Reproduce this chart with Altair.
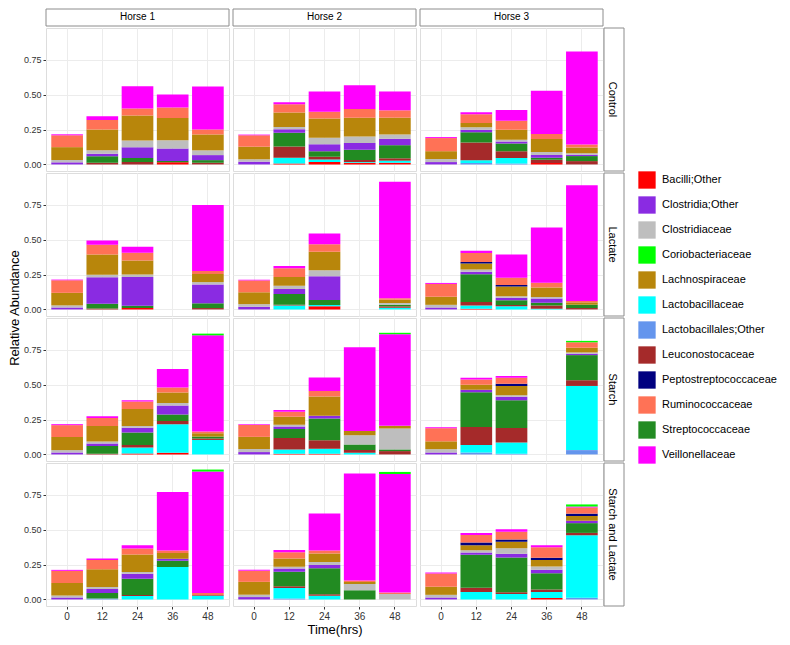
import altair as alt
import pandas as pd

treatments = ["Control", "Lactate", "Starch", "Starch and Lactate"]
horses = ["Horse 1", "Horse 2", "Horse 3"]
times = ["0", "12", "24", "36", "48"]

taxa = ["Bacilli;Other", "Clostridia;Other", "Clostridiaceae", "Coriobacteriaceae",
        "Lachnospiraceae", "Lactobacillaceae", "Lactobacillales;Other", "Leuconostocaceae",
        "Peptostreptococcaceae", "Ruminococcaceae", "Streptococcaceae", "Veillonellaceae"]
colors = ["#FF0000", "#8A2BE2", "#BEBEBE", "#00FF00", "#B8860B", "#00FFFF",
          "#6495ED", "#A52A2A", "#000080", "#FF7256", "#228B22", "#FF00FF"]
# stacking order, bottom to top
stack_order = ["Bacilli;Other", "Lactobacillales;Other", "Lactobacillaceae", "Leuconostocaceae",
               "Streptococcaceae", "Clostridia;Other", "Clostridiaceae", "Lachnospiraceae",
               "Peptostreptococcaceae", "Ruminococcaceae", "Veillonellaceae", "Coriobacteriaceae"]

# each line: one treatment; Horse 1 (0..48h), Horse 2 (0..48h), Horse 3 (0..48h)
bacilli_other = [
    0, 0, 0, .015, 0,   0, .007, .017, .012, .012,   0, 0, 0, .01, 0,
    0, 0, .01, 0, 0,    0, 0, .022, 0, 0,            0, .005, 0, 0, 0,
    0, 0, .007, .012, 0,  0, .005, .005, 0, 0,       0, 0, 0, 0, 0,
    0, 0, 0, 0, 0,      0, 0, 0, 0, 0,               0, 0, 0, .01, 0]
lactobacillales_other = [
    0, 0, 0, 0, 0,      0, 0, 0, 0, 0,               0, .01, .007, 0, 0,
    0, 0, 0, 0, 0,      0, 0, 0, 0, 0,               0, 0, 0, 0, 0,
    0, 0, 0, 0, 0,      0, 0, 0, 0, 0,               0, .014, .005, 0, .031,
    0, .007, 0, 0, 0,   0, .007, 0, 0, 0,            0, 0, 0, 0, .012]
lactobacillaceae = [
    0, 0, 0, 0, 0,      0, .041, .019, .005, .015,   0, .02, .039, 0, 0,
    0, 0, 0, 0, 0,      0, .029, .01, 0, .012,       0, .024, .022, .005, 0,
    0, 0, .043, .205, .104,  0, .031, .036, .012, 0,  0, .053, .08, 0, .46,
    0, 0, .024, .232, .027,  0, .075, .027, 0, 0,     0, .054, .039, .044, .448]
leuconostocaceae = [
    0, .012, .017, 0, .012,  0, .08, .019, .014, .017,  0, .128, .048, .024, .024,
    0, .007, 0, 0, .01,      0, .005, 0, 0, .01,        0, .024, .01, .024, .01,
    0, .005, .017, .022, .01,  0, .082, .06, .019, .024,  0, .13, .104, 0, .041,
    0, 0, .007, 0, .005,     0, .012, .01, 0, 0,        0, .029, .012, .017, .017]
streptococcaceae = [
    0, .046, .029, .01, .019,  0, .1, .039, .075, .094,   0, .072, .056, .014, .036,
    0, .034, .017, 0, .034,    0, .077, .036, 0, .012,    0, .2, .034, .019, .024,
    0, .055, .09, .048, .014,  0, .065, .157, .041, .012,  0, .249, .2, 0, .18,
    0, .039, .118, .046, 0,    0, .105, .187, .066, 0,    0, .238, .25, .117, .07]
clostridia_other = [
    .015, .019, .077, .09, .036,  .02, .024, .05, .048, .046,  .017, .019, .015, .019, .01,
    .014, .19, .205, 0, .135,     .019, .036, .17, 0, 0,       .014, .017, .017, .031, 0,
    .014, .019, .034, .063, 0,    .017, .017, .019, 0, 0,      .014, .017, .024, 0, .01,
    .014, .029, .036, .014, 0,    .017, .022, .022, 0, 0,      .014, .015, .027, .024, .017]
clostridiaceae = [
    .017, .024, .048, .058, .034,  .017, .017, .048, .046, .031,  .022, .017, .012, .022, .01,
    .015, .017, .019, 0, .017,     .019, .022, .043, 0, .012,     .019, .017, .012, .01, 0,
    .017, .014, .012, .019, 0,     .022, .012, 0, .065, .15,      .024, 0, .012, 0, .009,
    .014, .014, .012, 0, 0,        .017, .014, .022, .044, .039,  .019, .017, .039, .024, 0]
lachnospiraceae = [
    .092, .15, .18, .16, .114,   .09, .104, .138, .135, .12,   .056, .031, .072, .094, .041,
    .09, .145, .1, 0, .058,      .085, .063, .133, 0, .024,    .058, .043, .07, .068, .017,
    .094, .111, .123, .075, .024,  .087, .058, .138, .031, .019,  .056, .036, .065, 0, .034,
    .09, .128, .126, .041, 0,    .092, .058, .061, .015, 0,    .058, .036, .046, .046, .034]
peptostreptococcaceae = [
    0, 0, 0, 0, 0,   0, 0, 0, 0, 0,   0, 0, 0, 0, 0,
    0, 0, 0, 0, 0,   0, 0, 0, 0, 0,   0, .01, .01, 0, 0,
    0, 0, 0, 0, 0,   0, 0, 0, 0, 0,   0, 0, .017, 0, 0,
    0, 0, 0, 0, 0,   0, 0, 0, 0, 0,   0, .019, .017, .017, .017]
ruminococcaceae = [
    .085, .068, .05, .075, .036,  .082, .058, .048, .063, .053,  .094, .063, .065, .036, .022,
    .09, .07, .056, 0, .022,      .085, .063, .053, 0, .01,      .092, .065, .053, .034, .01,
    .085, .058, .053, .036, .012,  .085, .036, .039, 0, 0,       .094, .039, .043, 0, .039,
    .087, .065, .043, .017, .015,  .08, .046, .022, .01, .01,    .095, .054, .056, .075, .044]
veillonellaceae = [
    .007, .027, .16, .094, .307,  .005, .015, .145, .17, .135,  .007, .015, .077, .31, .667,
    .005, .031, .043, 0, .473,    .005, .017, .077, 0, .835,    .007, .015, .165, .396, .83,
    .007, .012, .01, .133, .69,   .005, .012, .097, .6, .657,   .007, .012, .012, 0, 0,
    .007, .012, .022, .42, .87,   .007, .015, .265, .767, .85,  .007, .015, .017, .015, .007]
coriobacteriaceae = [
    0, 0, 0, 0, 0,   0, 0, 0, 0, 0,   0, 0, 0, 0, 0,
    0, 0, 0, 0, 0,   0, 0, 0, 0, 0,   0, 0, 0, 0, 0,
    0, 0, 0, 0, .012,  0, 0, 0, 0, .01,  0, 0, 0, 0, .01,
    0, 0, 0, 0, .014,  0, 0, 0, 0, .015,  0, 0, 0, 0, .015]

series = {
    "Bacilli;Other": bacilli_other,
    "Lactobacillales;Other": lactobacillales_other,
    "Lactobacillaceae": lactobacillaceae,
    "Leuconostocaceae": leuconostocaceae,
    "Streptococcaceae": streptococcaceae,
    "Clostridia;Other": clostridia_other,
    "Clostridiaceae": clostridiaceae,
    "Lachnospiraceae": lachnospiraceae,
    "Peptostreptococcaceae": peptostreptococcaceae,
    "Ruminococcaceae": ruminococcaceae,
    "Veillonellaceae": veillonellaceae,
    "Coriobacteriaceae": coriobacteriaceae,
}

rows = []
for taxon, vals in series.items():
    for i, v in enumerate(vals):
        if v <= 0:
            continue
        rows.append({
            "Treatment": treatments[i // 15],
            "Horse": horses[(i % 15) // 5],
            "Time": times[i % 5],
            "Taxon": taxon,
            "Abundance": v,
            "ord": stack_order.index(taxon),
        })
df = pd.DataFrame(rows)

W, H = 183, 143

bars = alt.Chart().mark_bar().encode(
    x=alt.X("Time:O", sort=times,
            scale=alt.Scale(domain=times, paddingInner=0.1, paddingOuter=0.15),
            axis=alt.Axis(title=None, labelAngle=0, labelFontSize=10, labelColor="#333333",
                          tickColor="#333333", tickSize=3, bandPosition=0.5, minExtent=0,
                          grid=True, gridColor="#ececec", domain=False, labelPadding=2)),
    y=alt.Y("Abundance:Q", stack="zero",
            scale=alt.Scale(domain=[-0.047, 0.978], nice=False, zero=False),
            axis=alt.Axis(title=None, values=[0, 0.25, 0.5, 0.75], format=".2f",
                          labelFontSize=9, labelColor="#333333", tickColor="#333333",
                          tickSize=3, minExtent=0, gridColor="#ececec", domain=False,
                          labelPadding=2)),
    color=alt.Color("Taxon:N", scale=alt.Scale(domain=taxa, range=colors),
                    legend=alt.Legend(title=None, symbolType="square", symbolSize=300,
                                      symbolStrokeWidth=0, labelFontSize=11,
                                      rowPadding=7, labelOffset=6,
                                      orient="none", legendX=592, legendY=143)),
    order=alt.Order("ord:Q", sort="ascending"),
)

# strip boxes (outline only) above the top row and to the right of the last column
top_strip = alt.Chart().transform_filter(
    alt.datum.Treatment == treatments[0]
).transform_aggregate(
    n="count()", groupby=["Treatment", "Horse"]
).mark_rect(fill="white", fillOpacity=0, stroke="#8c8c8c", strokeWidth=1).encode(
    x=alt.value(0), x2=alt.value(W), y=alt.value(-19), y2=alt.value(-2)
)
right_strip = alt.Chart().transform_filter(
    alt.datum.Horse == horses[-1]
).transform_aggregate(
    n="count()", groupby=["Treatment", "Horse"]
).mark_rect(fill="white", fillOpacity=0, stroke="#8c8c8c", strokeWidth=1).encode(
    x=alt.value(W + 1), x2=alt.value(W + 21), y=alt.value(0), y2=alt.value(H)
)

layered = alt.layer(bars, top_strip, right_strip, data=df).properties(width=W, height=H)

chart = layered.facet(
    row=alt.Row("Treatment:N", sort=treatments, title="Relative Abundance",
                header=alt.Header(labelOrient="right", labelAngle=90, labelFontSize=11,
                                  labelPadding=4, titleOrient="left", titleFontSize=13,
                                  titleFontWeight="normal", titlePadding=-9)),
    column=alt.Column("Horse:N", sort=horses, title="Time(hrs)",
                      header=alt.Header(labelOrient="top", labelFontSize=10, labelPadding=6,
                                        titleOrient="bottom", titleFontSize=13,
                                        titleFontWeight="normal", titlePadding=-7)),
    spacing={"row": 2, "column": 4},
    bounds="flush",
).properties(padding=0).configure_view(
    stroke="#808080", strokeWidth=1
).configure(font="Liberation Sans")

chart.save("out.html", embed_options={"renderer": "svg", "actions": False})
